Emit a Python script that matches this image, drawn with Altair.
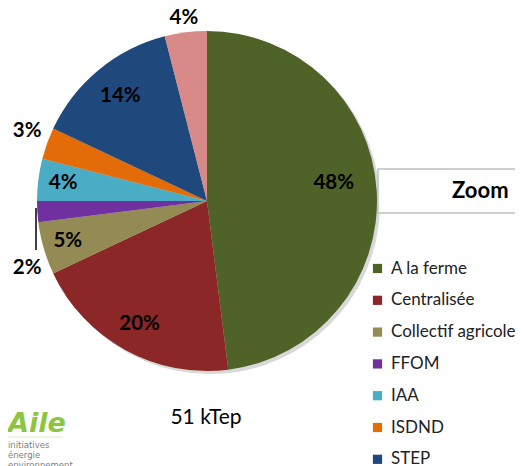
import altair as alt
import pandas as pd

categories = ["A la ferme", "Centralisée", "Collectif agricole", "FFOM", "IAA", "ISDND", "STEP", "Autres"]
values = [48, 20, 5, 2, 4, 3, 14, 4]
labels = ["48%", "20%", "5%", "2%", "4%", "3%", "14%", "4%"]
colors = ["#4f6228", "#8b2827", "#948a54", "#7030a0", "#4bacc6", "#e36c09", "#1f497d", "#d78a87"]
legend_items = categories[:7]

df = pd.DataFrame({"cat": categories, "value": values, "label": labels, "order": list(range(len(categories)))})

CX, CY, R = 199, 193, 170
FONT = "Lato"

base = alt.Chart(df)

shadow = base.mark_arc(outerRadius=R, color="#c8c8c8", opacity=0.7).encode(
    theta=alt.Theta("value:Q", stack=True),
    order=alt.Order("order:Q"),
    x=alt.value(CX + 3), y=alt.value(CY + 3),
)

pie = base.mark_arc(outerRadius=R).encode(
    theta=alt.Theta("value:Q", stack=True),
    order=alt.Order("order:Q"),
    color=alt.Color(
        "cat:N",
        sort=categories,
        scale=alt.Scale(domain=categories, range=colors),
        legend=alt.Legend(
            title=None, orient="none", legendX=361, legendY=252, padding=0,
            values=legend_items, symbolType="square", symbolSize=85,
            symbolStrokeWidth=0, labelFont=FONT, labelFontSize=17,
            labelColor="#222222", rowPadding=13.8, labelOffset=5,
            labelLimit=300,
        ),
    ),
    x=alt.value(CX), y=alt.value(CY),
)

label_expr_r = ("datum.cat=='A la ferme'?128:datum.cat=='Centralisée'?140:datum.cat=='Collectif agricole'?145:"
                "datum.cat=='FFOM'?192:datum.cat=='IAA'?145:datum.cat=='ISDND'?193:datum.cat=='STEP'?136:184")
label_expr_off = "datum.cat=='A la ferme'?-1.25:datum.cat=='FFOM'?-4.7:datum.cat=='ISDND'?0.4:0"

text = base.transform_window(
    cum="sum(value)", sort=[alt.SortField("order")]
).transform_calculate(
    mid="datum.cum - datum.value/2",
).transform_calculate(
    ang="datum.mid + (" + label_expr_off + ")",
    lr=label_expr_r,
).mark_text(font=FONT, fontSize=20.5, fontWeight="bold", color="#000000").encode(
    theta=alt.Theta("ang:Q", scale=alt.Scale(domain=[0, 100], range=[0, 6.283185307])),
    radius=alt.Radius("lr:Q", scale=alt.Scale(type="linear", domain=[0, 170], range=[0, 170], zero=True)),
    text="label:N",
    x=alt.value(CX), y=alt.value(CY),
)

leader = alt.Chart(pd.DataFrame({"a": [0]})).mark_rule(color="#000000", strokeWidth=1.5).encode(
    x=alt.value(28), y=alt.value(200), y2=alt.value(242)
)

zoom_box = alt.Chart(pd.DataFrame({"a": [0]})).mark_rect(
    fill="#ffffff", stroke="#c0c0c0", strokeWidth=1.5
).encode(x=alt.value(370), x2=alt.value(530), y=alt.value(161), y2=alt.value(205))

annot = pd.DataFrame({
    "txt": ["Zoom", "51 kTep"],
})
zoom_text = alt.Chart(annot[annot.txt == "Zoom"]).mark_text(
    font=FONT, fontSize=22, fontWeight="bold", align="left", baseline="middle", color="#000000"
).encode(text="txt:N", x=alt.value(444), y=alt.value(183))

ktep_text = alt.Chart(annot[annot.txt == "51 kTep"]).mark_text(
    font=FONT, fontSize=21, align="center", baseline="middle", color="#000000"
).encode(text="txt:N", x=alt.value(198), y=alt.value(410))

logo_df = pd.DataFrame({"t": ["Aile"]})
logo = alt.Chart(logo_df).mark_text(
    font="DejaVu Sans", fontSize=27, fontWeight="bold", fontStyle="italic",
    align="left", baseline="alphabetic", color="#8cc63e"
).encode(text="t:N", x=alt.value(0), y=alt.value(424))

logo_line = alt.Chart(pd.DataFrame({"a": [0]})).mark_rule(color="#d9ecc4", strokeWidth=1).encode(
    x=alt.value(0), x2=alt.value(54), y=alt.value(429)
)

small_df = pd.DataFrame({"t": ["initiatives", "énergie", "environnement"], "i": [0, 1, 2]})
small = alt.Chart(small_df).mark_text(
    font="DejaVu Sans", fontSize=8.5, align="left", baseline="middle", color="#808080"
).encode(
    text="t:N", x=alt.value(0),
    y=alt.Y("i:Q", scale=alt.Scale(domain=[0, 2], range=[437, 457]), axis=None),
)

chart = alt.layer(
    shadow, pie, text, leader, zoom_box, zoom_text, ktep_text, logo, logo_line, small
).resolve_scale(theta="independent", radius="independent", y="independent").properties(
    width=507, height=458, padding=0, autosize=alt.AutoSizeParams(type="none")
).configure_view(stroke=None)

chart.save("out.html", embed_options={"renderer": "svg", "actions": False})
